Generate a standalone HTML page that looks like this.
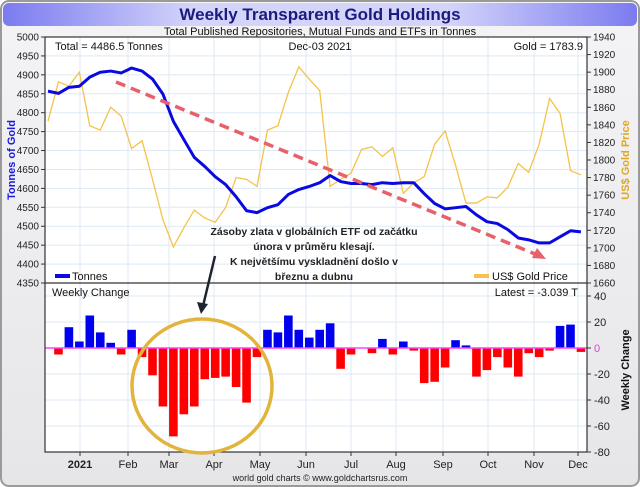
<!DOCTYPE html>
<html><head><meta charset="utf-8"><style>
html,body{margin:0;padding:0;background:#fff;}
#wrap{width:640px;height:487px;position:relative;overflow:hidden;font-family:"Liberation Sans",sans-serif;}
svg text{font-family:"Liberation Sans","DejaVu Sans",sans-serif;}
</style></head><body>
<div id="wrap">
<svg id="chart" width="640" height="487" xmlns="http://www.w3.org/2000/svg">
<defs>
<linearGradient id="bg" x1="0" y1="0" x2="0" y2="1"><stop offset="0" stop-color="#f4f4f6"/><stop offset="1" stop-color="#e6e6e8"/></linearGradient>
<linearGradient id="tb" x1="0" y1="0" x2="1" y2="0"><stop offset="0" stop-color="#7b7bf0"/><stop offset="0.3" stop-color="#d4d4fa"/><stop offset="0.7" stop-color="#d4d4fa"/><stop offset="1" stop-color="#7b7bf0"/></linearGradient>
</defs>
<rect x="1" y="1" width="638" height="485" rx="8" fill="url(#bg)" stroke="#9a9a9a" stroke-width="2"/>
<rect x="3" y="3" width="634" height="23" rx="6" fill="url(#tb)"/>
<text x="320" y="20" text-anchor="middle" font-size="17" font-weight="bold" fill="#1a1a80">Weekly Transparent Gold Holdings</text>
<text x="320" y="35" text-anchor="middle" font-size="11" fill="#111">Total Published Repositories, Mutual Funds and ETFs in Tonnes</text>
<g id="g"></g>
</svg>
</div>
<script>
const months = ["2021","Feb","Mar","Apr","May","Jun","Jul","Aug","Sep","Oct","Nov","Dec"];
const monthX = [80,128,169,214,260,306,351,396,443,488,534,578];
const tonnes = [4857,4851,4867,4870,4894,4907,4910,4905,4918,4910,4889,4849,4777,4729,4682,4658,4631,4610,4578,4541,4536,4549,4557,4584,4597,4605,4615,4634,4618,4613,4613,4610,4615,4613,4615,4615,4586,4560,4546,4549,4552,4530,4512,4507,4491,4469,4464,4456,4456,4472,4488,4485];
const goldPrice = [1844,1889,1884,1900,1839,1834,1860,1850,1813,1822,1778,1732,1701,1723,1743,1734,1729,1746,1780,1778,1770,1834,1839,1877,1906,1892,1879,1770,1778,1785,1812,1815,1804,1814,1762,1774,1781,1818,1833,1794,1751,1751,1758,1757,1769,1796,1786,1818,1870,1853,1788,1783];
const weeklyChange = [-5,16,5,25,12,4,-5,14,-7,-21,-45,-68,-51,-45,-24,-23,-22,-30,-42,-7,14,12,25,14,8,14,19,-16,-5,0,-4,7,-5,5,-2,-27,-26,-15,6,2,-22,-17,-7,-15,-22,-4,-7,-2,17,18,-3];
const tTicks = [5000,4950,4900,4850,4800,4750,4700,4650,4600,4550,4500,4450,4400,4350];
const pTicks = [1940,1920,1900,1880,1860,1840,1820,1800,1780,1760,1740,1720,1700,1680,1660];
const cTicks = [40,20,0,-20,-40,-60,-80];

const L=45,R=587,T1=37,B1=283,T2=283,B2=452;
const xi = i => 48 + i*10.45;
const yT = v => T1 + (5000-v)*(B1-T1)/650;
const yP = v => T1 + (1940-v)*(B1-T1)/280;
const yC = v => 296 + (40-v)*(B2-296)/120;
const NS="http://www.w3.org/2000/svg";
const g=document.getElementById('g');
function mk(tag,attrs,parent){const e=document.createElementNS(NS,tag);for(const k in attrs)e.setAttribute(k,attrs[k]);(parent||g).appendChild(e);return e;}
function tx(x,y,s,attrs){const e=mk('text',Object.assign({x:x,y:y},attrs));e.textContent=s;return e;}

// plot backgrounds
let e=mk('rect',{x:L,y:T1,width:R-L,height:B1-T1,fill:'#fff'});


e=mk('rect',{x:L,y:T2,width:R-L,height:B2-T2,fill:'#fff'});



// gridlines
tTicks.forEach(v=>{const y=yT(v);mk('line',{x1:L,x2:R,y1:y,y2:y,stroke:'#dde9f5','stroke-width':1});});
cTicks.forEach(v=>{const y=yC(v);mk('line',{x1:L,x2:R,y1:y,y2:y,stroke:'#dde9f5','stroke-width':1});});
monthX.forEach(x=>{mk('line',{x1:x,x2:x,y1:T1,y2:B2,stroke:'#dde9f5','stroke-width':1});});

// left ticks
tTicks.forEach(v=>{const y=yT(v);mk('line',{x1:L-4,x2:L,y1:y,y2:y,stroke:'#333'});
 const t=tx(L-6,y+3.5,v,{'text-anchor':'end','font-size':10,fill:'#222'});
 
 });
pTicks.forEach(v=>{const y=yP(v);mk('line',{x1:R,x2:R+4,y1:y,y2:y,stroke:'#333'});
 const t=tx(R+6,y+3.5,v,{'font-size':10,fill:'#222'});
 
 });
cTicks.forEach(v=>{const y=yC(v);mk('line',{x1:R,x2:R+4,y1:y,y2:y,stroke:'#333'});
 const t=tx(R+7,y+4,v,{'font-size':11,fill:v===0?'#e040e0':'#222'});
 
 });
months.forEach((m,i)=>{const t=tx(monthX[i],468,m,{'text-anchor':'middle','font-size':11,fill:'#222','font-weight':i===0?'bold':'normal'});
 
 
 mk('line',{x1:monthX[i],x2:monthX[i],y1:B2,y2:B2+4,stroke:'#333'});});

// bars
weeklyChange.forEach((v,i)=>{const x=xi(i+1);const y0=yC(0),y1=yC(v);
 const b=mk('rect',{x:x-4.3,y:Math.min(y0,y1),width:8.6,height:Math.abs(y1-y0),fill:v>=0?'#0000ee':'#ff0000'});
 
 });
mk('line',{x1:L,x2:R,y1:yC(0),y2:yC(0),stroke:'#ff40ff','stroke-width':1.5});

// gold price line
let p=mk('polyline',{points:goldPrice.map((v,i)=>xi(i)+','+yP(v)).join(' '),fill:'none',stroke:'#f5c24a','stroke-width':1.3});


// tonnes line
p=mk('polyline',{points:tonnes.map((v,i)=>xi(i)+','+yT(v)).join(' '),fill:'none',stroke:'#0a0ae0','stroke-width':3,'stroke-linejoin':'round'});



// frames
mk('rect',{x:L,y:T1,width:R-L,height:B2-T1,fill:'none',stroke:'#333','stroke-width':1.2});
mk('line',{x1:L,x2:R,y1:T2,y2:T2,stroke:'#333','stroke-width':1.2});

// in-plot labels
[[55,50,'Total = 4486.5 Tonnes','start','info-total'],[320,50,'Dec-03  2021','middle','info-date'],[583,50,'Gold = 1783.9','end','info-gold'],[52,296,'Weekly Change','start','weekly-change-label'],[578,296,'Latest = -3.039 T','end','info-latest']].forEach(a=>{
 const t=tx(a[0],a[1],a[2],{'text-anchor':a[3],'font-size':11,fill:'#111'});
 
 });

// legends
mk('line',{x1:55,x2:70,y1:276,y2:276,stroke:'#0a0ae0','stroke-width':4});
e=tx(72,280,'Tonnes',{'font-size':11,fill:'#111'});


mk('line',{x1:474,x2:489,y1:276,y2:276,stroke:'#f5c24a','stroke-width':4});
e=tx(492,280,'US$ Gold Price',{'font-size':11,fill:'#111'});



// axis titles
e=tx(0,0,'Tonnes of Gold',{'font-size':11,'font-weight':'bold',fill:'#1a1ae0',transform:'translate(15,160) rotate(-90)','text-anchor':'middle'});


e=tx(0,0,'US$ Gold Price',{'font-size':11,'font-weight':'bold',fill:'#e0a820',transform:'translate(629,160) rotate(-90)','text-anchor':'middle'});


e=tx(0,0,'Weekly Change',{'font-size':11,'font-weight':'bold',fill:'#111',transform:'translate(629,370) rotate(-90)','text-anchor':'middle'});


e=tx(320,481,'world gold charts © www.goldchartsrus.com',{'font-size':9,fill:'#222','text-anchor':'middle'});



// annotations
mk('line',{x1:116,y1:82,x2:535,y2:254,stroke:'#e8606a','stroke-width':3.5,'stroke-dasharray':'10,6'});
e=mk('polygon',{points:'546,259 532,258 537,248',fill:'#e8606a'});


const lines=['Zásoby zlata v globálních ETF od začátku','února v průměru klesají.','K největšímu vyskladnění došlo v','březnu a dubnu'];
lines.forEach((s,i)=>{const t=tx(314,235+i*15,s,{'font-size':10.5,'font-weight':'bold',fill:'#222','text-anchor':'middle'});
 
 });
mk('line',{x1:215,y1:256,x2:203,y2:306,stroke:'#1c2530','stroke-width':2.5});
e=mk('polygon',{points:'201,314 197,302 208,304',fill:'#1c2530'});


e=mk('ellipse',{cx:202,cy:386,rx:70,ry:67,fill:'none',stroke:'#e2b43c','stroke-width':3.5});


</script>
</body></html>
